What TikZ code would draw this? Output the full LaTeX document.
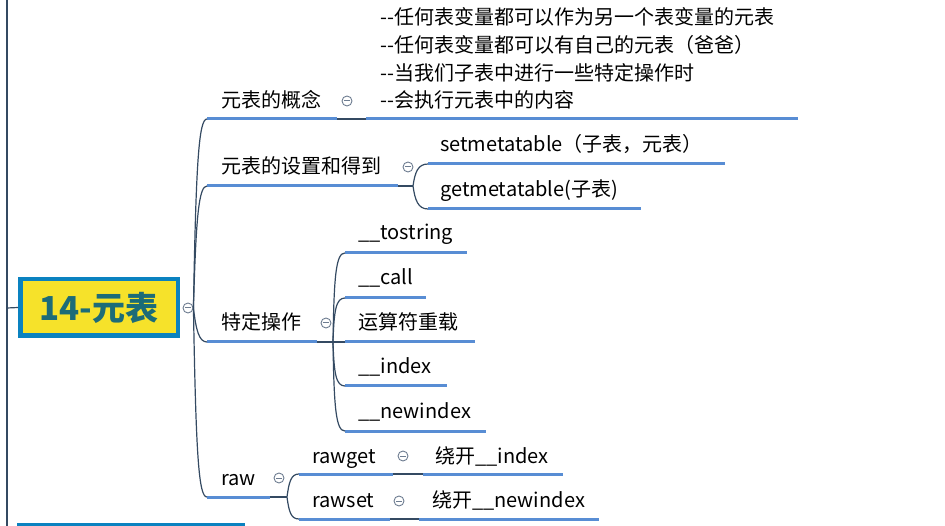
\documentclass[tikz,border=0pt]{standalone}
\usepackage{fontspec}
\setmainfont{Noto Sans CJK SC}
\definecolor{ublue}{RGB}{88,141,212}
\definecolor{lblue}{RGB}{52,74,98}
\definecolor{cgray}{RGB}{110,125,145}
\definecolor{rootblue}{RGB}{10,130,192}
\definecolor{rootyellow}{RGB}{246,226,42}
\definecolor{roottext}{RGB}{28,108,120}
\tikzset{
  txt/.style={anchor=base west, inner sep=0pt, font=\fontsize{20}{24}\selectfont, text=black},
  uline/.style={draw=ublue, line width=3pt},
  thinline/.style={draw=lblue, line width=1.2pt},
  collapse/.style={circle, draw=cgray, fill=white, line width=0.9pt, minimum size=10pt, inner sep=0pt,
    path picture={\draw[cgray, line width=1pt] ([xshift=-2.6pt]path picture bounding box.center) -- ([xshift=2.6pt]path picture bounding box.center);}},
  root/.style={draw=rootblue, line width=4.5pt, fill=rootyellow, minimum width=157.5pt, minimum height=56.5pt,
    inner sep=0pt, text=roottext, font=\fontsize{33}{38}\selectfont\bfseries},
}
\begin{document}
\begin{tikzpicture}[x=1pt,y=-1pt]
\useasboundingbox (0,0) rectangle (945,526);
% left frame line and bottom band
\coordinate (vt) at (7,0);
\coordinate (vb) at (7,526);
\draw[thinline] (vt) -- (vb);
\fill[rootblue] (17,523) rectangle (245,526);
% root
\node[root] (root) at (99,307.5) {14-元表};
\coordinate (L0) at (7,308);
\draw[thinline] (L0) -- (root.west);
\node[collapse] (c0) at (188,308) {};

% ---- branch 1
\node[txt] (b1) at (221,108) {元表的概念};
\coordinate (b1s) at (207,119);
\coordinate (b1e) at (337,119);
\draw[uline] (b1s) -- (b1e);
\node[collapse] (c1) at (347,101) {};
\coordinate (b1k) at (366,119);
\draw[thinline] (b1e) -- (b1k);
\node[txt, align=left, font=\fontsize{20}{27.7}\selectfont] (n1) at (380,108)
  {-{}-任何表变量都可以作为另一个表变量的元表\\-{}-任何表变量都可以有自己的元表（爸爸）\\-{}-当我们子表中进行一些特定操作时\\-{}-会执行元表中的内容};
\coordinate (n1e) at (798,119);
\draw[uline] (b1k) -- (n1e);

% ---- branch 2
\node[txt] (b2) at (221,174) {元表的设置和得到};
\coordinate (b2s) at (207,186);
\coordinate (b2e) at (398,186);
\draw[uline] (b2s) -- (b2e);
\node[collapse] (c2) at (408,167) {};
\coordinate (b2k) at (413,186);
\draw[thinline] (b2e) -- (b2k);
\node[txt] (s1) at (440,152) {setmetatable（子表，元表）};
\coordinate (s1s) at (428,164);
\coordinate (s1e) at (725,164);
\draw[uline] (s1s) -- (s1e);
\node[txt] (g1) at (440,197) {getmetatable(子表)};
\coordinate (g1s) at (428,209);
\coordinate (g1e) at (641,209);
\draw[uline] (g1s) -- (g1e);
\draw[thinline] (b2k) .. controls (415,172) and (418,164) .. (s1s);
\draw[thinline] (b2k) .. controls (415,200) and (418,209) .. (g1s);

% ---- branch 3
\node[txt] (b3) at (221,330) {特定操作};
\coordinate (b3s) at (207,342);
\coordinate (b3e) at (317,342);
\draw[uline] (b3s) -- (b3e);
\node[collapse] (c3) at (326,323) {};
\coordinate (b3k) at (333,342);
\node[txt] (t1) at (358,240) {\_\_tostring};
\coordinate (t1s) at (345,253); \coordinate (t1e) at (467,253);
\node[txt] (t2) at (358,285) {\_\_call};
\coordinate (t2s) at (345,298); \coordinate (t2e) at (426,298);
\node[txt] (t3) at (358,330) {运算符重载};
\coordinate (t3s) at (345,342); \coordinate (t3e) at (475,342);
\node[txt] (t4) at (358,373.5) {\_\_index};
\coordinate (t4s) at (345,386); \coordinate (t4e) at (447,386);
\node[txt] (t5) at (358,418) {\_\_newindex};
\coordinate (t5s) at (345,431); \coordinate (t5e) at (486,431);
\draw[uline] (t1s) -- (t1e);
\draw[uline] (t2s) -- (t2e);
\draw[uline] (t3s) -- (t3e);
\draw[uline] (t4s) -- (t4e);
\draw[uline] (t5s) -- (t5e);
\draw[thinline] (b3e) -- (t3s);
\draw[thinline] (b3k) .. controls (334,275) and (336,253) .. (t1s);
\draw[thinline] (b3k) .. controls (334,310) and (336,298) .. (t2s);
\draw[thinline] (b3k) .. controls (334,374) and (336,386) .. (t4s);
\draw[thinline] (b3k) .. controls (334,409) and (336,431) .. (t5s);

% ---- branch 4
\node[txt] (b4) at (221,485) {raw};
\coordinate (b4s) at (207,497);
\coordinate (b4e) at (270,497);
\draw[uline] (b4s) -- (b4e);
\node[collapse] (c4) at (279,478) {};
\coordinate (b4k) at (287,497);
\draw[thinline] (b4e) -- (b4k);
\node[txt] (r1) at (312,463) {rawget};
\coordinate (r1s) at (299,474); \coordinate (r1e) at (393,474);
\draw[uline] (r1s) -- (r1e);
\node[collapse] (c5) at (403,456) {};
\coordinate (r1k) at (423,474);
\draw[thinline] (r1e) -- (r1k);
\node[txt] (k1) at (435,463) {绕开\_\_index};
\coordinate (k1e) at (563,474);
\draw[uline] (r1k) -- (k1e);
\node[txt] (r2) at (312,507) {rawset};
\coordinate (r2s) at (299,519); \coordinate (r2e) at (390,519);
\draw[uline] (r2s) -- (r2e);
\node[collapse] (c6) at (399,501) {};
\coordinate (r2k) at (419,519);
\draw[thinline] (r2e) -- (r2k);
\node[txt] (k2) at (432,507) {绕开\_\_newindex};
\coordinate (k2e) at (599,519);
\draw[uline] (r2k) -- (k2e);
\draw[thinline] (b4k) .. controls (289,482) and (291,474) .. (r1s);
\draw[thinline] (b4k) .. controls (289,512) and (291,519) .. (r2s);

% ---- trunk
\draw[thinline] (c0.east) .. controls (196,160) and (199,119) .. (b1s);
\draw[thinline] (c0.east) .. controls (196,215) and (199,186) .. (b2s);
\draw[thinline] (c0.east) .. controls (196,330) and (199,342) .. (b3s);
\draw[thinline] (c0.east) .. controls (196,460) and (199,497) .. (b4s);
\end{tikzpicture}
\end{document}
